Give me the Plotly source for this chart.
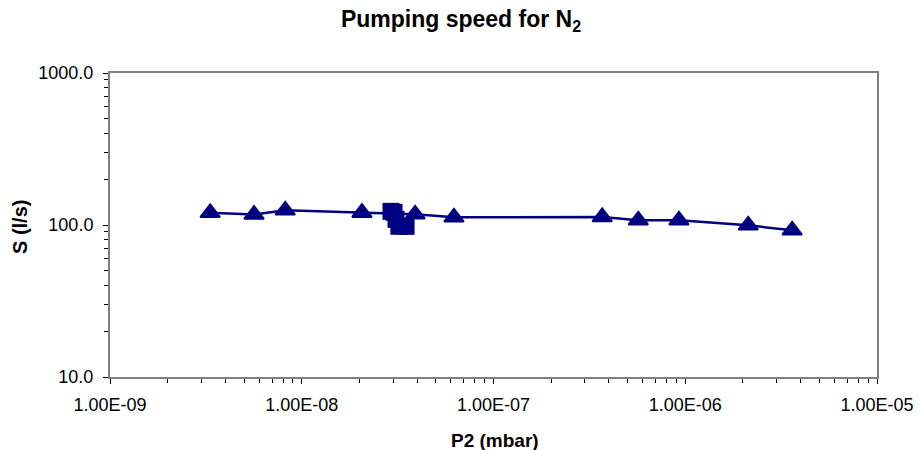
import plotly.graph_objects as go

# Triangle series (connected by a line)
p2_tri = [3.33e-9, 5.64e-9, 8.20e-9, 2.06e-8, 3.90e-8, 6.22e-8, 3.69e-7, 5.69e-7, 9.27e-7, 2.13e-6, 3.61e-6]
s_tri = [120.3, 117.1, 124.9, 120.6, 117.6, 112.4, 112.9, 107.4, 107.4, 99.5, 92.3]

# Square series (cluster)
p2_sq = [2.92e-8, 3.03e-8, 3.10e-8, 3.21e-8, 3.50e-8]
s_sq = [123.0, 121.2, 109.0, 98.0, 98.0]

x_tickvals = [1e-9, 1e-8, 1e-7, 1e-6, 1e-5]
x_ticktext = ["1.00E-09", "1.00E-08", "1.00E-07", "1.00E-06", "1.00E-05"]
y_tickvals = [10, 100, 1000]
y_ticktext = ["10.0", "100.0", "1000.0"]

navy = "#000080"
font = "Liberation Sans, Arial, sans-serif"

L, R, T, B = 110, 44, 73, 73
W, H = 921, 450
pw, ph = W - L - R, H - T - B

fig = go.Figure()
fig.add_trace(go.Scatter(
    x=p2_tri, y=s_tri, mode="lines+markers",
    line=dict(color=navy, width=2.5),
    marker=dict(symbol="triangle-up", size=17, color=navy, line=dict(color=navy, width=2)),
    showlegend=False))
fig.add_trace(go.Scatter(
    x=p2_sq, y=s_sq, mode="markers",
    marker=dict(symbol="square", size=17, color=navy, line=dict(width=0)),
    showlegend=False))

fig.update_layout(
    width=W, height=H,
    margin=dict(l=L, r=R, t=T, b=B),
    paper_bgcolor="white", plot_bgcolor="white",
    font=dict(family=font, color="black"),
    title=dict(text="<b>Pumping speed for N<sub>2</sub></b>", x=461 / W, xanchor="center",
               y=1 - 19 / H, yanchor="middle", font=dict(size=23, family=font)),
    annotations=[
        dict(text="<b>P2 (mbar)</b>", xref="paper", yref="paper",
             x=(494.5 - L) / pw, y=(H - B - 440) / ph, xanchor="center", yanchor="middle",
             showarrow=False, font=dict(size=19, family=font)),
        dict(text="<b>S (l/s)</b>", xref="paper", yref="paper",
             x=(20 - L) / pw, y=(H - B - 227) / ph, xanchor="center", yanchor="middle",
             textangle=-90, showarrow=False, font=dict(size=20, family=font)),
    ],
)
fig.update_xaxes(
    type="log", range=[-9, -5], tickvals=x_tickvals, ticktext=x_ticktext,
    showgrid=False, zeroline=False,
    showline=True, linecolor="#808080", linewidth=2, mirror=True,
    ticks="outside", ticklen=5, tickcolor="black", tickwidth=1,
    minor=dict(ticks="outside", ticklen=4, tickcolor="black", dtick="D1", showgrid=False),
    tickfont=dict(size=18, family=font), ticklabelstandoff=5,
    automargin=False,
)
fig.update_yaxes(
    type="log", range=[1, 3], tickvals=y_tickvals, ticktext=y_ticktext,
    showgrid=False, zeroline=False,
    showline=True, linecolor="#808080", linewidth=2, mirror=True,
    ticks="outside", ticklen=5, tickcolor="black", tickwidth=1,
    minor=dict(ticks="outside", ticklen=4, tickcolor="black", dtick="D1", showgrid=False),
    tickfont=dict(size=18, family=font), ticklabelstandoff=6,
    automargin=False,
)

fig.write_html("out.html", config={"displayModeBar": False},
               post_script="document.body.style.margin='0';document.body.style.overflow='hidden';")
